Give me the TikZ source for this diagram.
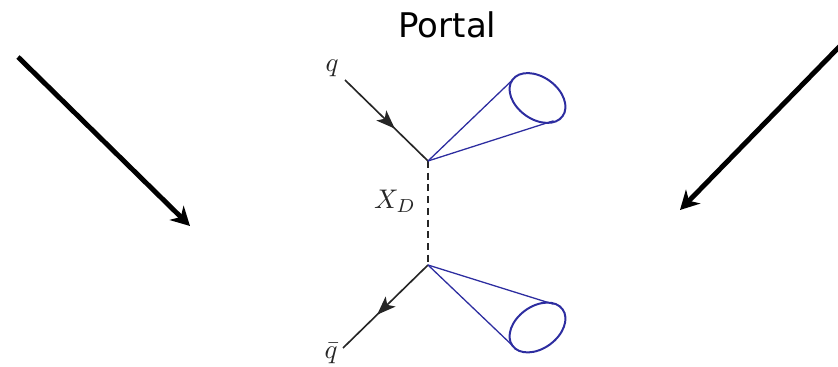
\documentclass[tikz,border=0pt]{standalone}
\usepackage{fontspec}
\newfontfamily\titlefont{DejaVu Sans}
\usetikzlibrary{arrows.meta,decorations.markings}
\definecolor{coneblue}{RGB}{45,45,160}
\begin{document}
\begin{tikzpicture}[x=0.03cm,y=-0.03cm,
  bigarrow/.style={line width=4.2pt,-{Stealth[length=16pt,width=17pt,inset=5pt]}},
  quark/.style={line width=1.4pt,draw=black!85},
  midarrow/.style={postaction=decorate,decoration={markings,
     mark=at position #1 with {\arrow{Stealth[length=16pt,width=12pt,inset=4pt]}}}},
  cone/.style={draw=coneblue,line width=1.1pt},
  rim/.style={draw=coneblue,line width=1.7pt},
  prop/.style={line width=1.1pt,dash pattern=on 6pt off 4pt,draw=black!85},
  lbl/.style={scale=2.3,inner sep=1pt,text=black!85},
  title/.style={font=\titlefont\fontsize{29}{34}\selectfont}]
\useasboundingbox (0,0) rectangle (838,367);
% title
\node[title,anchor=base] (title) at (447.5,38) {Portal};
% big arrows
\coordinate (la1) at (18,57);
\coordinate (la2) at (190,226);
\coordinate (ra1) at (840,46);
\coordinate (ra2) at (680,210);
\draw[bigarrow] (la1) -- (la2);
\draw[bigarrow] (ra1) -- (ra2);
% vertices
\coordinate (v1) at (428,161);
\coordinate (v2) at (428,265);
\coordinate (qs) at (345,80);
\coordinate (qe) at (343,348);
% labels
\node[lbl] (q) at (332,68) {$q$};
\node[lbl] (xd) at (395,201) {$X_D$};
\node[lbl] (qb) at (331,353) {$\bar q$};
% quark lines
\draw[quark,midarrow=0.6] (qs) -- (v1);
\draw[quark,midarrow=0.6] (v2) -- (qe);
% propagator
\draw[prop] (v1) -- (v2);
% upper cone
\coordinate (e1) at (537.5,98);
\coordinate (t1a) at (513.5,79);
\coordinate (t1b) at (553.5,120.8);
\draw[rim,rotate around={-36:(e1)}] (e1) ellipse [x radius=31, y radius=21];
\draw[cone] (v1) -- (t1a);
\draw[cone] (v1) -- (t1b);
% lower cone
\coordinate (e2) at (537.5,327.5);
\coordinate (t2a) at (553.5,304.2);
\coordinate (t2b) at (513.5,346.5);
\draw[rim,rotate around={36:(e2)}] (e2) ellipse [x radius=31, y radius=21];
\draw[cone] (v2) -- (t2a);
\draw[cone] (v2) -- (t2b);
\end{tikzpicture}
\end{document}
